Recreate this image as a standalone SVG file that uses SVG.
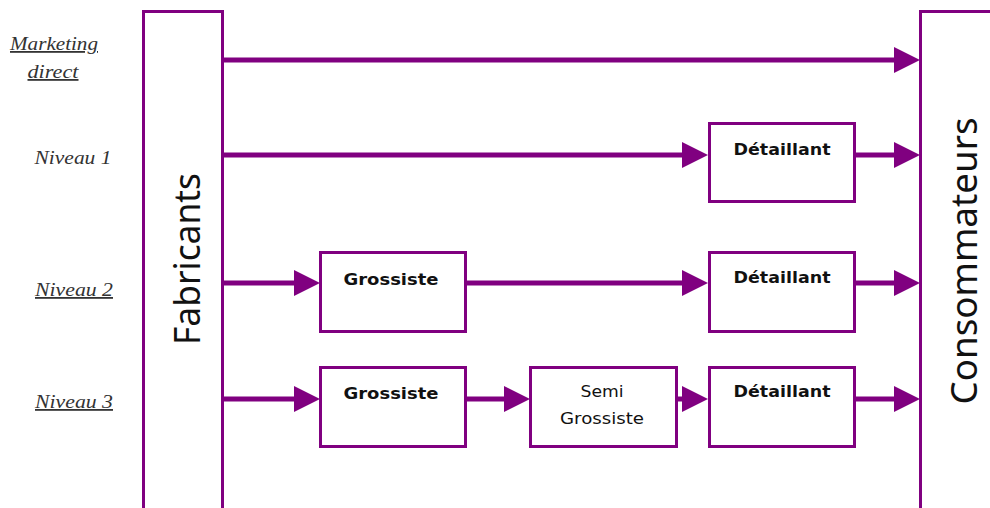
<svg xmlns="http://www.w3.org/2000/svg" width="990" height="508" viewBox="0 0 990 508">
  <style>
    .frame { fill: #ffffff; stroke: #800080; stroke-width: 3; }
    .box { fill: #ffffff; stroke: #800080; stroke-width: 3; }
    .link { stroke: #800080; stroke-width: 5; fill: none; marker-end: url(#head); }
    .side { font-family: "Noto Sans", "Open Sans", sans-serif; font-size: 37px; fill: #111111; text-anchor: middle; }
    .lbl { font-family: "DejaVu Sans", sans-serif; font-size: 15px; font-weight: bold; fill: #111111; text-anchor: middle; }
    .lbl2 { font-family: "DejaVu Sans", sans-serif; font-size: 16px; fill: #111111; text-anchor: middle; }
    .lvl { font-family: "Liberation Serif", serif; font-style: italic; font-size: 18px; fill: #333333; text-anchor: middle; }
    .u { text-decoration: underline; }
  </style>
  <defs>
    <marker id="head" viewBox="0 0 26 26" refX="6" refY="13" markerWidth="26" markerHeight="26" markerUnits="userSpaceOnUse" orient="auto">
      <path d="M0,0 L26,13 L0,26 Z" fill="#800080"/>
    </marker>
  </defs>

  <rect width="990" height="508" fill="#ffffff"/>

  <!-- level labels -->
  <g id="labels">
    <text class="lvl u" x="54" y="50" textLength="88" lengthAdjust="spacingAndGlyphs">Marketing</text>
    <text class="lvl u" x="53" y="78" textLength="51" lengthAdjust="spacingAndGlyphs">direct</text>
    <text class="lvl" x="73" y="164" textLength="77" lengthAdjust="spacingAndGlyphs">Niveau 1</text>
    <text class="lvl u" x="74" y="296" textLength="78" lengthAdjust="spacingAndGlyphs">Niveau 2</text>
    <text class="lvl u" x="74" y="408" textLength="78" lengthAdjust="spacingAndGlyphs">Niveau 3</text>
  </g>

  <!-- manufacturers column -->
  <g id="fabricants">
    <rect class="frame" x="143.5" y="11.5" width="79" height="520"/>
    <text class="side" transform="translate(200,259) rotate(-90)" textLength="172" lengthAdjust="spacingAndGlyphs">Fabricants</text>
  </g>

  <!-- consumers column -->
  <g id="consommateurs">
    <rect class="frame" x="920.5" y="11.5" width="100" height="520"/>
    <text class="side" transform="translate(977,261) rotate(-90)" textLength="287" lengthAdjust="spacingAndGlyphs">Consommateurs</text>
  </g>

  <!-- connectors -->
  <g id="connectors">
    <line class="link" x1="223" y1="60" x2="900" y2="60"/>

    <line class="link" x1="223" y1="155" x2="688" y2="155"/>
    <line class="link" x1="855" y1="155" x2="900" y2="155"/>

    <line class="link" x1="223" y1="283" x2="300" y2="283"/>
    <line class="link" x1="466" y1="283" x2="688" y2="283"/>
    <line class="link" x1="855" y1="283" x2="900" y2="283"/>

    <line class="link" x1="223" y1="399" x2="300" y2="399"/>
    <line class="link" x1="466" y1="399" x2="510" y2="399"/>
    <line class="link" x1="677" y1="399" x2="688" y2="399"/>
    <line class="link" x1="855" y1="399" x2="900" y2="399"/>
  </g>

  <!-- level 1 -->
  <g id="detaillant1">
    <rect class="box" x="709.5" y="123.5" width="145" height="78"/>
    <text class="lbl" x="782" y="155" textLength="97" lengthAdjust="spacingAndGlyphs">Détaillant</text>
  </g>

  <!-- level 2 -->
  <g id="grossiste2">
    <rect class="box" x="320.5" y="252.5" width="145" height="79"/>
    <text class="lbl" x="391" y="285" textLength="95" lengthAdjust="spacingAndGlyphs">Grossiste</text>
  </g>
  <g id="detaillant2">
    <rect class="box" x="709.5" y="252.5" width="145" height="79"/>
    <text class="lbl" x="782" y="283" textLength="97" lengthAdjust="spacingAndGlyphs">Détaillant</text>
  </g>

  <!-- level 3 -->
  <g id="grossiste3">
    <rect class="box" x="320.5" y="367.5" width="145" height="79"/>
    <text class="lbl" x="391" y="399" textLength="95" lengthAdjust="spacingAndGlyphs">Grossiste</text>
  </g>
  <g id="semigrossiste3">
    <rect class="box" x="530.5" y="367.5" width="146" height="79"/>
    <text class="lbl2" x="602" y="397" textLength="43" lengthAdjust="spacingAndGlyphs">Semi</text>
    <text class="lbl2" x="602" y="424" textLength="84" lengthAdjust="spacingAndGlyphs">Grossiste</text>
  </g>
  <g id="detaillant3">
    <rect class="box" x="709.5" y="367.5" width="145" height="79"/>
    <text class="lbl" x="782" y="397" textLength="97" lengthAdjust="spacingAndGlyphs">Détaillant</text>
  </g>
</svg>
